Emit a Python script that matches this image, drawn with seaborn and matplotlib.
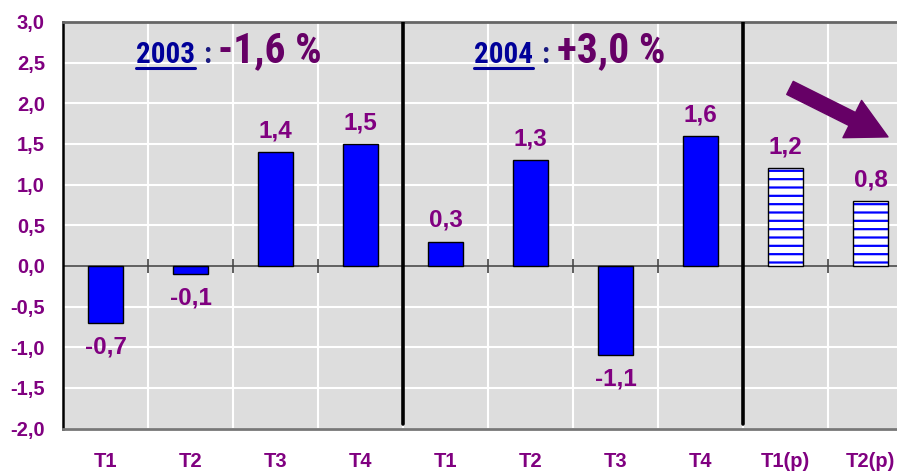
import numpy as np
import pandas as pd
import matplotlib
matplotlib.use("Agg")
import matplotlib.pyplot as plt
from matplotlib import font_manager
from matplotlib.lines import Line2D
import seaborn as sns

# ---- data ----
quarters = ["T1", "T2", "T3", "T4", "T1", "T2", "T3", "T4", "T1(p)", "T2(p)"]
years = ["2003", "2003", "2003", "2003", "2004", "2004", "2004", "2004", "2005", "2005"]
values = [-0.7, -0.1, 1.4, 1.5, 0.3, 1.3, -1.1, 1.6, 1.2, 0.8]
forecast = [False] * 8 + [True, True]
yticks = [-2.0, -1.5, -1.0, -0.5, 0.0, 0.5, 1.0, 1.5, 2.0, 2.5, 3.0]
annual_years = ["2003", "2004"]
annual_growth = ["-1,6 %", "+3,0 %"]

ids = [f"{y}-{q}" for y, q in zip(years, quarters)]
df = pd.DataFrame({"id": ids, "value": values})

sns.set_theme(style="white")
names = {f.name for f in font_manager.fontManager.ttflist}
base = "Liberation Sans" if "Liberation Sans" in names else "DejaVu Sans"
narrow = "Roboto Condensed" if "Roboto Condensed" in names else base
plt.rcParams["font.family"] = [base, "DejaVu Sans"]
plt.rcParams["hatch.linewidth"] = 1.6

PURPLE = "#800080"
DARKP = "#660066"
NAVY = "#000099"

W, H = 897, 476
fig = plt.figure(figsize=(W / 100, H / 100), dpi=100)
ax = fig.add_axes([63 / W, 1 - 428.5 / H, 850 / W, (428.5 - 22) / H])
ax.set_facecolor("#DDDDDD")

sns.barplot(data=df, x="id", y="value", order=ids, color="#0000FF",
            width=0.42, edgecolor="black", linewidth=1.0, saturation=1,
            ax=ax, zorder=3)

for p, f in zip(ax.patches, forecast):
    if f:
        p.set_facecolor("white")
        p.set_hatch("--")
        p.set_edgecolor("black")
        p._hatch_color = (0.0, 0.0, 1.0, 1.0)

ax.set_xlim(-0.5, len(ids) - 0.5)
ax.set_ylim(yticks[0], yticks[-1])

# grid
ax.set_yticks(yticks)
ax.set_yticklabels([f"{t:.1f}".replace(".", ",") for t in yticks])
ax.set_xticks(range(len(ids)))
ax.set_xticklabels(quarters)
bounds = np.arange(len(ids) - 1) + 0.5
ax.set_xticks(bounds, minor=True)
ax.grid(True, axis="y", which="major", color="white", lw=1.5, zorder=0)
ax.grid(True, axis="x", which="minor", color="white", lw=1.5, zorder=0)
ax.grid(False, axis="x", which="major")
ax.set_axisbelow(True)

ax.set_xlabel("")
ax.set_ylabel("")
for lab in ax.get_yticklabels() + ax.get_xticklabels():
    lab.set_color(PURPLE)
    lab.set_fontweight("bold")
    lab.set_fontsize(14.5)
ax.tick_params(axis="y", direction="in", length=6, width=1.2, color="#555555", pad=13)
ax.tick_params(axis="x", which="both", length=0, pad=17)

# spines
ax.spines["left"].set_color("black")
ax.spines["left"].set_linewidth(1.8)
ax.spines["top"].set_color("#666666")
ax.spines["top"].set_linewidth(2)
ax.spines["bottom"].set_color("#777777")
ax.spines["bottom"].set_linewidth(2)
ax.spines["right"].set_visible(False)

# zero line with small ticks
ax.axhline(0, color="#444444", lw=1.2, zorder=2)
year_breaks = [i + 0.5 for i in range(len(ids) - 1) if years[i] != years[i + 1]]
minor_b = [b for b in bounds if b not in year_breaks]
ax.plot(minor_b, [0] * len(minor_b), ls="none", marker="|", ms=10, mew=1.2,
        color="#444444", zorder=2)
for b in year_breaks:
    ax.axvline(b, ymin=0.01, ymax=1, color="black", lw=2.6, zorder=4)

# value labels
for i, v in enumerate(values):
    txt = f"{v:.1f}".replace(".", ",")
    if v >= 0:
        ax.annotate(txt, (i, v), xytext=(0, 7), textcoords="offset points",
                    ha="center", va="bottom", color=PURPLE, fontsize=17.5,
                    fontweight="bold", zorder=5)
    else:
        ax.annotate(txt, (i, v), xytext=(0, -9), textcoords="offset points",
                    ha="center", va="top", color=PURPLE, fontsize=17.5,
                    fontweight="bold", zorder=5)

# annual titles
def px2x(px):
    return (px - 63) / 85 - 0.5

title_pos = [(136, 203, 218), (474, 541, 557)]
underline_items = []
for (yr, gr, (p1, p2, p3)) in zip(annual_years, annual_growth, title_pos):
    t = ax.text(px2x(p1), 2.5, yr, color=NAVY, fontsize=21, fontweight="bold",
                family=[narrow, "DejaVu Sans"], ha="left", va="baseline", zorder=6)
    underline_items.append(t)
    ax.text(px2x(p2), 2.5, ":", color="#1A1A80", fontsize=21, fontweight="bold",
            family=[narrow, "DejaVu Sans"], ha="left", va="baseline", zorder=6)
    ax.text(px2x(p3), 2.5, gr, color=DARKP, fontsize=30, fontweight="bold",
            family=[narrow, "DejaVu Sans"], ha="left", va="baseline", zorder=6)

fig.canvas.draw()
r = fig.canvas.get_renderer()
for t in underline_items:
    bb = t.get_window_extent(r)
    yl = (H - 68) / H
    fig.add_artist(Line2D([bb.x0 / W, bb.x1 / W], [yl, yl], color=NAVY, lw=2.2))

# trend arrow
ax.annotate("", xy=(px2x(888), (266 - 137) / 81.3), xytext=(px2x(790), (266 - 88) / 81.3),
            arrowprops=dict(arrowstyle="simple,head_length=1.15,head_width=1.2,tail_width=0.42",
                            fc=DARKP, ec=DARKP, mutation_scale=25, shrinkA=0, shrinkB=0),
            zorder=6)

fig.savefig("out.png", dpi=100)
